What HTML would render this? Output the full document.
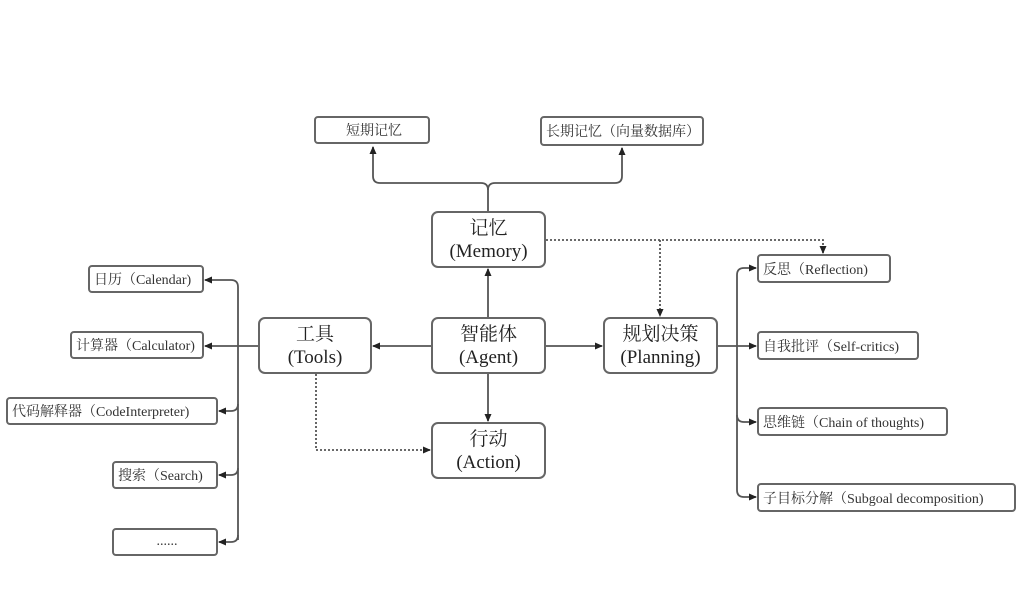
<!DOCTYPE html>
<html><head><meta charset="utf-8"><style>
body{margin:0;width:1024px;height:590px;background:#fff;overflow:hidden;position:relative;font-family:"Liberation Serif","Noto Serif CJK SC","Noto Sans CJK SC",serif;color:#222}
.b{position:absolute;box-sizing:border-box;border:2px solid #666;border-radius:4px;background:#fff;display:flex;align-items:center;justify-content:center;text-align:center}
.s{font-size:14px;justify-content:flex-start;padding-left:4px;white-space:nowrap;color:#333}
.m{font-size:19px;line-height:23px;border-radius:7px}
svg{position:absolute;left:0;top:0}
</style></head><body>
<svg width="1024" height="590" viewBox="0 0 1024 590">
<defs><marker id="a" markerWidth="8" markerHeight="8" refX="7" refY="4" orient="auto" markerUnits="userSpaceOnUse"><path d="M0,0.5 L8,4 L0,7.5z" fill="#222"/></marker></defs>
<g fill="none" stroke="#555" stroke-width="1.8">
<path d="M488,211 V190 Q488,183 481,183 H380 Q373,183 373,176 V147" marker-end="url(#a)"/>
<path d="M488,190 Q488,183 495,183 H615 Q622,183 622,176 V148" marker-end="url(#a)"/>
<path d="M488,317 V269" marker-end="url(#a)"/>
<path d="M431,346 H373" marker-end="url(#a)"/>
<path d="M546,346 H602" marker-end="url(#a)"/>
<path d="M488,374 V421" marker-end="url(#a)"/>
<path d="M258,346 H238"/>
<path d="M238,540 V287 Q238,280 231,280 H205" marker-end="url(#a)"/>
<path d="M238,346 H205" marker-end="url(#a)"/>
<path d="M238,404 Q238,411 231,411 H219" marker-end="url(#a)"/>
<path d="M238,468 Q238,475 231,475 H219" marker-end="url(#a)"/>
<path d="M238,535 Q238,542 231,542 H219" marker-end="url(#a)"/>
<path d="M718,346 H737"/>
<path d="M737,490 V275 Q737,268 744,268 H756" marker-end="url(#a)"/>
<path d="M737,346 H756" marker-end="url(#a)"/>
<path d="M737,415 Q737,422 744,422 H756" marker-end="url(#a)"/>
<path d="M737,490 Q737,497 744,497 H756" marker-end="url(#a)"/>
<g stroke-dasharray="2,2">
<path d="M546,240 H823 V253" marker-end="url(#a)"/>
<path d="M660,240 V316" marker-end="url(#a)"/>
<path d="M316,374 V450 H430" marker-end="url(#a)"/>
</g></g></svg>
<div class="b s" style="left:314px;top:116px;width:116px;height:28px;justify-content:center">短期记忆</div>
<div class="b s" style="left:540px;top:116px;width:164px;height:30px">长期记忆（向量数据库）</div>
<div class="b m" style="left:431px;top:211px;width:115px;height:57px">记忆<br>(Memory)</div>
<div class="b m" style="left:431px;top:317px;width:115px;height:57px">智能体<br>(Agent)</div>
<div class="b m" style="left:258px;top:317px;width:114px;height:57px">工具<br>(Tools)</div>
<div class="b m" style="left:603px;top:317px;width:115px;height:57px">规划决策<br>(Planning)</div>
<div class="b m" style="left:431px;top:422px;width:115px;height:57px">行动<br>(Action)</div>
<div class="b s" style="left:88px;top:265px;width:116px;height:28px">日历（Calendar)</div>
<div class="b s" style="left:70px;top:331px;width:134px;height:28px">计算器（Calculator)</div>
<div class="b s" style="left:6px;top:397px;width:212px;height:28px">代码解释器（CodeInterpreter)</div>
<div class="b s" style="left:112px;top:461px;width:106px;height:28px">搜索（Search)</div>
<div class="b s" style="left:112px;top:528px;width:106px;height:28px;justify-content:center">......</div>
<div class="b s" style="left:757px;top:254px;width:134px;height:29px">反思（Reflection)</div>
<div class="b s" style="left:757px;top:331px;width:162px;height:29px">自我批评（Self-critics)</div>
<div class="b s" style="left:757px;top:407px;width:191px;height:29px">思维链（Chain of thoughts)</div>
<div class="b s" style="left:757px;top:483px;width:259px;height:29px">子目标分解（Subgoal decomposition)</div>
</body></html>
